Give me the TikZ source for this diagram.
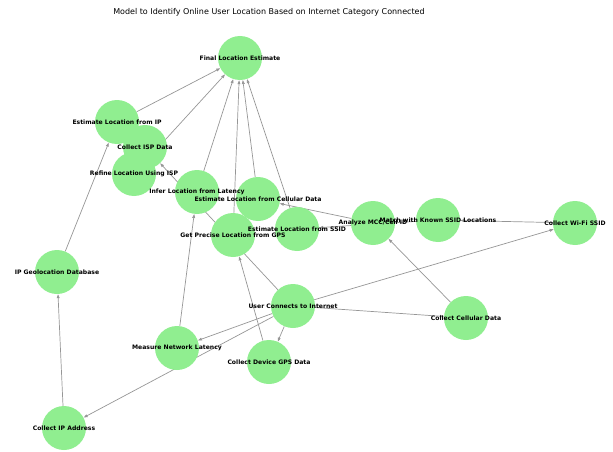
\documentclass[tikz,border=0pt]{standalone}
\usepackage{fontspec}
\setmainfont{DejaVu Sans}
\usetikzlibrary{arrows.meta,backgrounds}

\definecolor{nodegreen}{RGB}{144,238,144}
\definecolor{edgegray}{RGB}{150,150,150}

\tikzset{
  stage/.style={circle, fill=nodegreen, minimum size=44pt, inner sep=0pt},
  stagelabel/.style={font=\fontsize{6.1}{7}\selectfont\bfseries, inner sep=0pt},
  link/.style={draw=edgegray, line width=0.7pt, -{Triangle[length=4pt,width=2.8pt]}}
}

\begin{document}
\begin{tikzpicture}[x=1pt, y=-1pt]
    \useasboundingbox (0,0) rectangle (613,452);
    % title
    \node (title) at (269,12) {\fontsize{8}{9.5}\selectfont Model to Identify Online User Location Based on Internet Category Connected};
    % sink
    \node[stage] (final) at (240,58) {};
    % IP branch
    \node[stage] (ipaddr) at (64,428) {};
    \node[stage] (geodb) at (57,272) {};
    \node[stage] (estip) at (117,122) {};
    % ISP branch
    \node[stage] (isp) at (145,147) {};
    \node[stage] (refine) at (134,174) {};
    % latency branch
    \node[stage] (latency) at (177,348) {};
    \node[stage] (infer) at (197,192) {};
    % GPS branch
    \node[stage] (gpsdata) at (269,362) {};
    \node[stage] (gps) at (233,235) {};
    % cellular branch
    \node[stage] (cell) at (466,318) {};
    \node[stage] (mcc) at (373,223) {};
    \node[stage] (estcell) at (258,199) {};
    % wi-fi branch
    \node[stage] (wifi) at (575,223) {};
    \node[stage] (match) at (438,220) {};
    \node[stage] (estssid) at (297,229) {};
    % source
    \node[stage] (user) at (293,306) {};

    % labels go over everything
    \foreach \n/\t in {final/{Final Location Estimate}, ipaddr/{Collect IP Address},
        geodb/{IP Geolocation Database}, estip/{Estimate Location from IP},
        isp/{Collect ISP Data}, refine/{Refine Location Using ISP},
        latency/{Measure Network Latency}, infer/{Infer Location from Latency},
        gpsdata/{Collect Device GPS Data}, gps/{Get Precise Location from GPS},
        cell/{Collect Cellular Data}, mcc/{Analyze MCC/Cell ID},
        estcell/{Estimate Location from Cellular Data}, wifi/{Collect Wi-Fi SSID},
        match/{Match with Known SSID Locations}, estssid/{Estimate Location from SSID},
        user/{User Connects to Internet}}
        \node[stagelabel] at (\n) {\t};

    \begin{scope}[on background layer]
        % from the user
        \draw[link] (user) -- (ipaddr);
        \draw[link] (user) -- (latency);
        \draw[link] (user) -- (gpsdata);
        \draw[link] (user) -- (cell);
        \draw[link] (user) -- (wifi);
        \draw[link] (user) -- (isp);
        % chains
        \draw[link] (ipaddr) -- (geodb);
        \draw[link] (geodb) -- (estip);
        \draw[link] (isp) -- (refine);
        \draw[link] (latency) -- (infer);
        \draw[link] (gpsdata) -- (gps);
        \draw[link] (cell) -- (mcc);
        \draw[link] (mcc) -- (estcell);
        \draw[link] (wifi) -- (match);
        \draw[link] (match) -- (estssid);
        % into the estimate
        \foreach \s in {estip, refine, infer, gps, estcell, estssid}
            \draw[link] (\s) -- (final);
    \end{scope}
\end{tikzpicture}
\end{document}
